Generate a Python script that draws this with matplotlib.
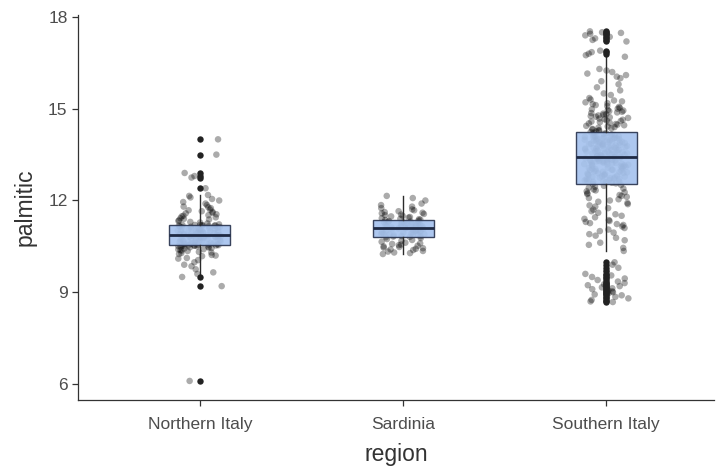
import numpy as np
import matplotlib
matplotlib.use("Agg")
import matplotlib.pyplot as plt

plt.rcParams['font.family'] = ['Liberation Sans', 'DejaVu Sans']

regions = ["Northern Italy", "Sardinia", "Southern Italy"]

# palmitic values (hundredths of a percent)
northern = [
    610, 920, 950,
    960, 965, 975, 985, 990, 998, 1005, 1010, 1012, 1018, 1020, 1022, 1025, 1028,
    1030, 1032, 1035, 1036, 1038, 1040, 1041, 1043, 1045, 1046, 1047, 1048, 1049,
    1050, 1051, 1052, 1052, 1053, 1053, 1054, 1054, 1054,
    1055, 1056, 1057, 1058, 1059, 1060, 1061, 1062, 1063, 1064, 1065, 1066, 1067,
    1068, 1069, 1070, 1071, 1072, 1073, 1074, 1075, 1076, 1077, 1078, 1079, 1080,
    1081, 1082, 1083, 1084, 1085, 1085, 1085, 1086, 1086, 1087, 1087, 1087,
    1088, 1089, 1090, 1091, 1092, 1093, 1094, 1095, 1096, 1097, 1098, 1099, 1100,
    1101, 1102, 1103, 1104, 1105, 1106, 1107, 1108, 1109, 1110, 1111, 1112, 1113,
    1114, 1115, 1116, 1117, 1118, 1118, 1119, 1119, 1120, 1120, 1120,
    1122, 1125, 1128, 1130, 1133, 1135, 1138, 1140, 1142, 1145, 1148, 1150, 1152,
    1155, 1158, 1160, 1163, 1165, 1168, 1170, 1175, 1178, 1180, 1185, 1190, 1195,
    1200, 1205, 1210, 1215, 1218,
    1240, 1275, 1280, 1290, 1350, 1400,
]

sardinia = [
    1025, 1028, 1030, 1033, 1035, 1038, 1040, 1042, 1044, 1046, 1048, 1050, 1052,
    1054, 1056, 1058, 1060, 1062, 1065, 1068, 1071, 1074, 1077, 1080,
    1081, 1082, 1083, 1084, 1086, 1087, 1088, 1089, 1090, 1091, 1092, 1093, 1095,
    1096, 1097, 1098, 1099, 1100, 1101, 1102, 1104, 1105, 1106, 1108, 1109,
    1110, 1111, 1112, 1113, 1114, 1115, 1116, 1117, 1118, 1119, 1120, 1121, 1122,
    1123, 1124, 1125, 1126, 1127, 1128, 1129, 1130, 1131, 1133, 1134, 1136,
    1137, 1139, 1140, 1142, 1144, 1146, 1148, 1150, 1152, 1154, 1156, 1158, 1160,
    1162, 1165, 1168, 1171, 1175, 1180, 1185, 1190, 1200, 1208, 1215,
]

southern = [
    868, 870, 875, 880, 885, 890, 893, 896, 900, 903, 906, 910, 913, 916, 920, 923,
    926, 930, 935, 940, 945, 950, 955, 960, 970, 980, 990, 998,
    1035, 1045, 1055, 1062, 1070, 1078, 1085, 1090, 1095, 1100, 1105, 1110, 1115,
    1120, 1123, 1126, 1130, 1133, 1136, 1140,
    1145, 1150, 1155, 1160, 1165, 1170, 1175, 1180, 1184, 1188, 1192, 1196, 1200,
    1204, 1208, 1212, 1215, 1218, 1221, 1224, 1227, 1230, 1233, 1236, 1239, 1242,
    1245, 1248, 1251, 1254, 1256, 1258, 1260,
    1261, 1262, 1263, 1265, 1266, 1267, 1268, 1270, 1271, 1272, 1273, 1275, 1276,
    1277, 1278, 1279, 1281, 1282, 1283, 1284, 1286, 1287, 1288, 1289, 1290, 1292,
    1293, 1294, 1295, 1297, 1298, 1299, 1300, 1301, 1303, 1304, 1305, 1306, 1307,
    1309, 1310, 1311, 1312, 1313, 1315, 1316, 1317, 1318, 1319, 1320, 1321, 1322,
    1323, 1324, 1325, 1326, 1327, 1328, 1329, 1330, 1331, 1332, 1333, 1334, 1335,
    1336, 1337, 1338, 1339, 1340, 1340, 1341, 1341, 1342,
    1343, 1344, 1345, 1346, 1347, 1348, 1349, 1350, 1351, 1352, 1353, 1354, 1355,
    1356, 1357, 1358, 1359, 1360, 1361, 1362, 1363, 1364, 1365, 1366, 1367, 1368,
    1369, 1370, 1371, 1372, 1373, 1374, 1375, 1376, 1377, 1378, 1379, 1380, 1381,
    1382, 1383, 1384, 1385, 1386, 1387, 1388, 1389, 1390, 1391, 1392, 1393, 1394,
    1395, 1396, 1397, 1398, 1399, 1400, 1401, 1402, 1403, 1404, 1405, 1406, 1407,
    1408, 1409, 1410, 1411, 1412, 1413, 1414,
    1416, 1418, 1420, 1422, 1424, 1426, 1428, 1430, 1432, 1434, 1436, 1438, 1440,
    1442, 1444, 1446, 1448, 1450, 1452, 1454, 1456, 1458, 1460, 1462, 1464, 1466,
    1468, 1470, 1472, 1474, 1476, 1478, 1480, 1482, 1484, 1486, 1488, 1490, 1492,
    1494, 1496, 1498, 1500, 1503, 1506, 1509, 1512, 1515, 1518, 1521, 1524, 1527,
    1530, 1535, 1545,
    1550, 1560, 1570, 1580, 1590, 1600, 1605, 1610, 1615, 1620, 1625, 1630,
    1670, 1675, 1680, 1685, 1690, 1720, 1725, 1730, 1735, 1740, 1745, 1748, 1750,
    1753,
]

y_ticks = [6, 9, 12, 15, 18]

data = [np.array(v) / 100.0 for v in (northern, sardinia, southern)]

fig = plt.figure(figsize=(7.2, 4.68), dpi=100)
ax = fig.add_axes([78 / 720, (468 - 400) / 468, (714 - 78) / 720, (400 - 15) / 468])

# deterministic hash-style jitter (horizontal placement only)
for k, vals in enumerate(data):
    n = len(vals)
    idx = np.arange(n) + 1000 * (k + 1)
    h = np.sin(idx * 12.9898 + 78.233) * 43758.5453
    offs = (h - np.floor(h) - 0.5) * 0.22
    ax.scatter(k + 1 + offs, vals, s=22, color="black", alpha=0.33,
               edgecolors="none", zorder=1)

bp = ax.boxplot(data, positions=[1, 2, 3], widths=0.3, patch_artist=True,
                whis=1.5, zorder=2,
                boxprops=dict(facecolor="#a6c3ee", edgecolor="#2b3550", linewidth=1.0, alpha=0.92),
                medianprops=dict(color="#1f2a44", linewidth=2.0),
                whiskerprops=dict(color="#2b2b2b", linewidth=1.0),
                capprops=dict(linewidth=0),
                flierprops=dict(marker="o", markerfacecolor="#222222", markeredgecolor="none",
                                markersize=4.6))

ax.set_xlim(0.4, 3.53)
ax.set_ylim(5.477, 18.065)
ax.set_yticks(y_ticks)
ax.set_xticks([1, 2, 3])
ax.set_xticklabels(regions)

for s in ("top", "right"):
    ax.spines[s].set_visible(False)
for s in ("left", "bottom"):
    ax.spines[s].set_color("#333333")
    ax.spines[s].set_linewidth(0.9)

ax.tick_params(axis="both", colors="#333333", labelcolor="#4d4d4d",
               labelsize=12.5, length=4, width=0.9)
ax.tick_params(axis="x", pad=8)
ax.set_xlabel("region", fontsize=16.5, color="#333333", labelpad=8)
ax.set_ylabel("palmitic", fontsize=16.5, color="#333333", labelpad=8)

fig.savefig("out.png", dpi=100)
